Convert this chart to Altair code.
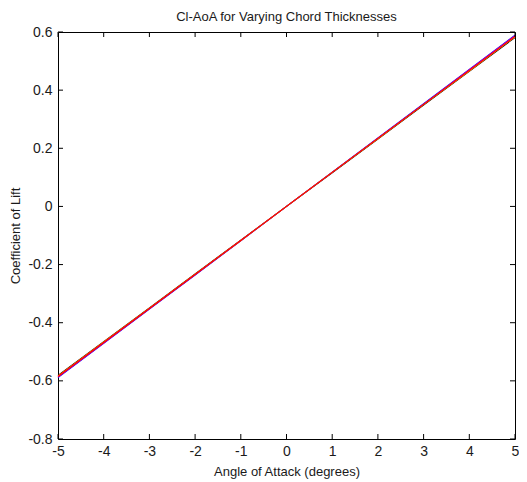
import altair as alt
import pandas as pd

aoa = [-5, -4, -3, -2, -1, 0, 1, 2, 3, 4, 5]
series_names = ["t/c 6%", "t/c 9%", "t/c 12%", "t/c 15%", "t/c 18%"]
series_colors = ["#0000ff", "#000000", "#bf00bf", "#ff8000", "#ff0000"]
cl_1 = [-0.589, -0.471, -0.353, -0.236, -0.118, 0.0, 0.118, 0.236, 0.353, 0.471, 0.589]
cl_2 = [-0.581, -0.465, -0.349, -0.232, -0.116, 0.0, 0.116, 0.232, 0.349, 0.465, 0.581]
cl_3 = [-0.587, -0.470, -0.352, -0.235, -0.117, 0.0, 0.117, 0.235, 0.352, 0.470, 0.587]
cl_4 = [-0.583, -0.466, -0.350, -0.233, -0.117, 0.0, 0.117, 0.233, 0.350, 0.466, 0.583]
cl_5 = [-0.585, -0.468, -0.351, -0.234, -0.117, 0.0, 0.117, 0.234, 0.351, 0.468, 0.585]
x_ticks = [-5, -4, -3, -2, -1, 0, 1, 2, 3, 4, 5]
y_ticks = [-0.8, -0.6, -0.4, -0.2, 0, 0.2, 0.4, 0.6]

rows = []
for i, (name, vals) in enumerate(zip(series_names, [cl_1, cl_2, cl_3, cl_4, cl_5])):
    for a, c in zip(aoa, vals):
        rows.append({"aoa": a, "cl": c, "series": name, "order": i})
df = pd.DataFrame(rows)

W, H = 457, 407
FONT = "Liberation Sans"
TXT = "#1a1a1a"

xscale = alt.Scale(domain=[-5, 5], nice=False, zero=False)
yscale = alt.Scale(domain=[-0.8, 0.6], nice=False, zero=False)

xaxis = alt.Axis(values=x_ticks, tickSize=0, labelPadding=5, domain=False, grid=False,
                 title="Angle of Attack (degrees)", titleFont=FONT, titleFontSize=13,
                 titleFontWeight="normal", titleColor=TXT, labelFont=FONT, labelFontSize=14,
                 labelColor=TXT, titlePadding=7, labelFlush=False,
                 labelExpr="replace(format(datum.value, 'd'), '−', '-')")
yaxis = alt.Axis(values=y_ticks, tickSize=0, labelPadding=6, domain=False, grid=False,
                 title="Coefficient of Lift", titleFont=FONT, titleFontSize=13,
                 titleFontWeight="normal", titleColor=TXT, labelFont=FONT, labelFontSize=14,
                 labelColor=TXT, titlePadding=5, labelFlush=False,
                 labelExpr="datum.value == 0 ? '0' : replace(format(datum.value, '.1f'), '−', '-')")

lines = alt.Chart(df).mark_line(strokeWidth=1.1).encode(
    x=alt.X("aoa:Q", scale=xscale, axis=xaxis),
    y=alt.Y("cl:Q", scale=yscale, axis=yaxis),
    color=alt.Color("series:N", scale=alt.Scale(domain=series_names, range=series_colors), legend=None),
    order="order:Q",
)

xt = pd.DataFrame({"v": x_ticks})
yt = pd.DataFrame({"v": y_ticks})
tick_style = dict(color="#000", strokeWidth=1)
bx = alt.Chart(xt).mark_rule(**tick_style).encode(x=alt.X("v:Q", scale=xscale), y=alt.value(H), y2=alt.value(H - 5))
tx = alt.Chart(xt).mark_rule(**tick_style).encode(x=alt.X("v:Q", scale=xscale), y=alt.value(0), y2=alt.value(5))
ly = alt.Chart(yt).mark_rule(**tick_style).encode(y=alt.Y("v:Q", scale=yscale), x=alt.value(0), x2=alt.value(5))
ry = alt.Chart(yt).mark_rule(**tick_style).encode(y=alt.Y("v:Q", scale=yscale), x=alt.value(W), x2=alt.value(W - 5))

chart = alt.layer(lines, bx, tx, ly, ry).properties(
    width=W, height=H,
    title=alt.TitleParams("Cl-AoA for Varying Chord Thicknesses", font=FONT, fontSize=13,
                          fontWeight="normal", color=TXT, offset=1, anchor="middle",
                          frame="group"),
    autosize=alt.AutoSizeParams(type="none"),
    padding={"left": 50, "top": 24, "right": 4, "bottom": 43},
).configure(background="white").configure_view(stroke="#000", strokeWidth=1)

chart.save("out.html", embed_options={"renderer": "svg", "actions": False})
